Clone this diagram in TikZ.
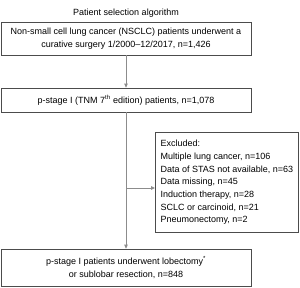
\documentclass[tikz,border=0pt]{standalone}
\usepackage{fontspec}
\setmainfont{Liberation Sans}
\usepackage{tikz}
\usetikzlibrary{arrows.meta,positioning,calc}

\begin{document}
\begin{tikzpicture}[
  x=1pt, y=-1pt,
  >={Triangle[length=4pt,width=3.6pt]},
  font=\fontsize{9}{12.7}\selectfont,
  flowbox/.style={draw=black!70, line width=0.8pt, align=center, inner sep=0pt},
  flowline/.style={draw=black!45, line width=0.9pt}
]
\useasboundingbox (0,0) rectangle (300,287);

% ==================== titel ====================
\node (title) at (126, 13) {Patient selection algorithm};

% ==================== hoofdstroom ====================
\node (surgery) [flowbox, minimum width=250pt, minimum height=33pt] at (126, 38.5)
  {Non-small cell lung cancer (NSCLC) patients underwent a\\
   curative surgery 1/2000--12/2017, n=1,426};

\node (stage) [flowbox, minimum width=250pt, minimum height=24pt] at (126, 100)
  {p-stage I (TNM 7\textsuperscript{th} edition) patients, n=1,078};

\node (final) [flowbox, minimum width=250pt, minimum height=37pt] at (126, 267.5)
  {p-stage I patients underwent lobectomy\textsuperscript{*}\\
   or sublobar resection, n=848};

% ==================== uitsluitingen ====================
\node (excluded) [flowbox, align=left, anchor=north west,
  minimum width=143pt, minimum height=100pt] at (155, 132)
  {Excluded:\\
   Multiple lung cancer, n=106\\
   Data of STAS not available, n=63\\
   Data missing, n=45\\
   Induction therapy, n=28\\
   SCLC or carcinoid, n=21\\
   Pneumonectomy, n=2};

% ==================== pijlen ====================
\coordinate (branch) at (126, 188);
\draw[flowline, ->] (surgery.south) -- (stage.north);
\draw[flowline, ->] (stage.south) -- (final.north);
\draw[flowline, ->] (branch) -- (branch -| excluded.west);

\end{tikzpicture}
\end{document}
